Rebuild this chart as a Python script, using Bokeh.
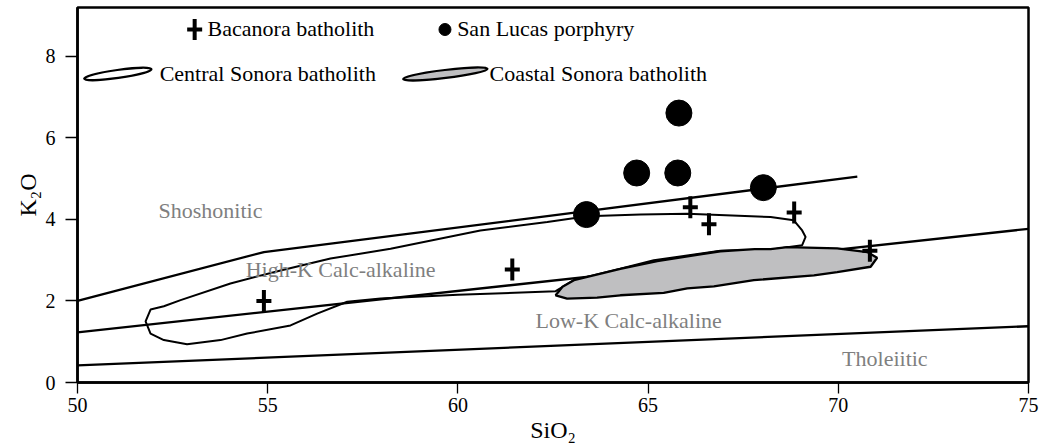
from bokeh.plotting import figure
from bokeh.models import Range1d
from bokeh.core.properties import value
from bokeh.embed import file_html
from bokeh.resources import INLINE

# ---------------- data ----------------
x_ticks = [50, 55, 60, 65, 70, 75]
y_ticks = [0, 2, 4, 6, 8]

# Peccerillo & Taylor boundary lines
shosh_x = [50.0, 54.9, 70.5]
shosh_y = [2.0, 3.2, 5.05]
highk_x = [50.0, 75.0]
highk_y = [1.23, 3.77]
thol_x = [50.0, 75.0]
thol_y = [0.42, 1.38]

# Central Sonora batholith field (outline)
central_x = [51.79, 51.92, 52.27, 52.71, 54.02, 55.34, 56.65, 58.23, 60.59, 62.35,
             63.40, 64.80, 66.03, 68.22, 68.83, 69.05, 69.14, 69.05, 68.66, 68.22,
             66.90, 65.15, 64.27, 63.05, 62.57, 60.00, 57.97, 57.09, 56.30, 55.60,
             54.46, 53.76, 52.88, 52.27, 51.92]
central_y = [1.50, 1.79, 1.87, 2.02, 2.43, 2.75, 3.04, 3.28, 3.73, 3.94,
             4.08, 4.12, 4.14, 4.06, 3.98, 3.73, 3.57, 3.37, 3.32, 3.26,
             3.23, 3.00, 2.79, 2.51, 2.24, 2.15, 2.06, 1.98, 1.69, 1.40,
             1.20, 1.04, 0.94, 1.04, 1.20]

# Coastal Sonora batholith field (grey)
coastal_x = [62.57, 62.75, 63.05, 64.27, 65.24, 66.90, 67.80, 68.22, 68.66, 69.97,
             70.76, 71.02, 70.85, 69.97, 69.36, 67.78, 66.73, 66.03, 65.41, 64.27,
             63.66, 62.87]
coastal_y = [2.14, 2.35, 2.51, 2.79, 2.98, 3.22, 3.27, 3.27, 3.32, 3.29,
             3.20, 3.06, 2.84, 2.71, 2.63, 2.51, 2.36, 2.31, 2.20, 2.14,
             2.08, 2.06]

# Bacanora batholith samples
bacanora_sio2 = [54.90, 61.43, 66.11, 66.60, 68.84, 70.83]
bacanora_k2o = [2.00, 2.77, 4.30, 3.88, 4.17, 3.23]

# San Lucas porphyry samples
sanlucas_sio2 = [65.81, 64.70, 65.78, 68.03, 63.38]
sanlucas_k2o = [6.61, 5.14, 5.14, 4.78, 4.12]

# Series field names
field_names = ["Shoshonitic", "High-K Calc-alkaline", "Low-K Calc-alkaline", "Tholeiitic"]
legend_names = ["Bacanora batholith", "San Lucas porphyry",
                "Central Sonora batholith", "Coastal Sonora batholith"]

# ---------------- layout constants ----------------
FONT = "Liberation Serif"
field_lab_x = [52.13, 54.42, 62.04, 70.10]
field_lab_y = [4.22, 2.78, 1.53, 0.59]

p = figure(width=1039, height=448, x_range=Range1d(50, 75), y_range=Range1d(0, 9.2),
           output_backend="svg", toolbar_location=None,
           min_border_left=77, min_border_right=11, min_border_top=7, min_border_bottom=66)
p.grid.visible = False
p.background_fill_color = "white"
p.border_fill_color = "white"
p.outline_line_color = "black"
p.outline_line_width = 2.5
p.outline_line_alpha = 1.0

for ax in (p.xaxis[0], p.yaxis[0]):
    ax.axis_line_width = 2.5
    ax.axis_line_color = "black"
    ax.major_tick_line_width = 1.3
    ax.major_tick_line_color = "black"
    ax.major_tick_in = 0
    ax.minor_tick_line_color = None
    ax.major_label_text_font = FONT
    ax.major_label_text_font_size = "20px"
    ax.major_label_text_color = "black"
    ax.axis_label_text_font = FONT
    ax.axis_label_text_font_size = "24px"
    ax.axis_label_text_font_style = "normal"
    ax.axis_label_text_color = "black"

p.xaxis.ticker = x_ticks
p.yaxis.ticker = y_ticks
p.xaxis.major_tick_out = 11
p.yaxis.major_tick_out = 12
p.xaxis.major_label_standoff = 4
p.yaxis.major_label_standoff = 10
p.xaxis.axis_label = "SiO\u2082"
p.yaxis.axis_label = "K\u2082O"
p.xaxis.axis_label_standoff = 2
p.yaxis.axis_label_standoff = 2

# boundary lines
for xs, ys in ((shosh_x, shosh_y), (highk_x, highk_y), (thol_x, thol_y)):
    p.line(xs, ys, line_color="black", line_width=2.3)

# fields
p.patch(central_x, central_y, fill_color=None, line_color="black", line_width=2.0)
p.patch(coastal_x, coastal_y, fill_color="#bfbfc1", line_color="black", line_width=2.3)

# field labels
p.text(x=field_lab_x, y=field_lab_y, text=field_names, text_font=value(FONT),
       text_font_size=value("22px"), text_color="#7f7f7f",
       text_baseline="alphabetic", text_align="left")

# samples
p.scatter(bacanora_sio2, bacanora_k2o, marker="dash", size=15, line_color="black", line_width=4)
p.scatter(bacanora_sio2, bacanora_k2o, marker="dash", size=22, angle=1.5708,
          line_color="black", line_width=4)
p.scatter(sanlucas_sio2, sanlucas_k2o, marker="circle", size=26, fill_color="black",
          line_color="black")

# legend (drawn manually)
leg_sym_x = [53.08, 59.66]
leg_sym_y = [8.66, 8.66]
leg_txt_x = [53.42, 59.98, 52.16, 60.83]
leg_txt_y = [8.68, 8.68, 7.58, 7.58]
p.scatter([leg_sym_x[0]], [leg_sym_y[0]], marker="dash", size=15, line_color="black", line_width=4)
p.scatter([leg_sym_x[0]], [leg_sym_y[0]], marker="dash", size=21, angle=1.5708,
          line_color="black", line_width=4)
p.scatter([leg_sym_x[1]], [leg_sym_y[1]], marker="circle", size=12, fill_color="black",
          line_color="black")
p.ellipse(x=[51.06], y=[7.57], width=68, height=8, angle=0.14, width_units="screen",
          height_units="screen", fill_color="white", line_color="black", line_width=2.2)
p.ellipse(x=[59.67], y=[7.57], width=85, height=8, angle=0.12, width_units="screen",
          height_units="screen", fill_color="#bfbfc1", line_color="black", line_width=2.2)
p.text(x=leg_txt_x, y=leg_txt_y, text=legend_names, text_font=value(FONT),
       text_font_size=value("22px"), text_color="black",
       text_baseline="alphabetic", text_align="left")

open("out.html", "w").write(file_html(p, INLINE))
